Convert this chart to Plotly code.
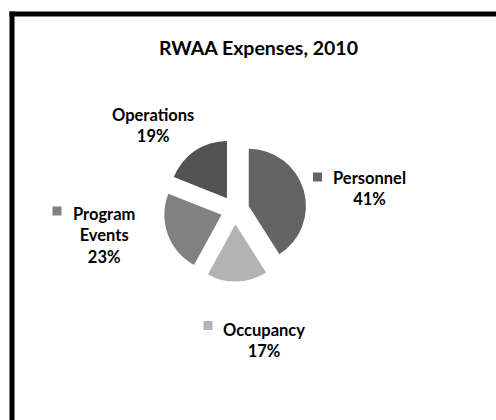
import plotly.graph_objects as go

# ---- data ----
categories = ["Personnel", "Occupancy", "Program Events", "Operations"]
values = [41, 17, 23, 19]
label_lines = [["Personnel"], ["Occupancy"], ["Program", "Events"], ["Operations"]]
slice_colors = ["#646464", "#b3b3b3", "#818181", "#525252"]
title_text = "RWAA Expenses, 2010"

W, H = 496, 420


def px(x):
    return x / W


def py(y):
    return 1 - y / H


total = sum(values)
pcts = [round(v / total * 100) for v in values]

fig = go.Figure(
    go.Pie(
        labels=categories,
        values=values,
        sort=False,
        direction="clockwise",
        rotation=0,
        pull=[0.25] * len(values),
        marker=dict(colors=slice_colors, line=dict(width=0)),
        textinfo="none",
        hoverinfo="label+percent",
        showlegend=False,
        domain=dict(x=[px(235 - 71.5), px(235 + 71.5)], y=[py(210 + 71.5), py(210 - 71.5)]),
    )
)

FONT = "Lato"
# label block centers (pixel) and key marker centers
label_pos = {
    "Personnel": (369, 189, (317.5, 177)),
    "Occupancy": (264, 340, (208, 325.5)),
    "Program Events": (104, 235, (57, 211)),
    "Operations": (153, 125, None),
}

annotations = [
    dict(
        text=title_text,
        x=px(258.5), y=py(47), xref="paper", yref="paper",
        showarrow=False, xanchor="center", yanchor="middle",
        font=dict(family=FONT, size=19.5, color="#000000", weight="bold"),
    )
]
# chart-area frame: only top and left edges are visible in the crop
shapes = [
    dict(type="line", xref="paper", yref="paper",
         x0=px(9.5), y0=py(14), x1=1, y1=py(14),
         line=dict(color="#000000", width=5)),
    dict(type="line", xref="paper", yref="paper",
         x0=px(12), y0=py(11.5), x1=px(12), y1=0,
         line=dict(color="#000000", width=5)),
]
for cat, lines, pct, col in zip(categories, label_lines, pcts, slice_colors):
    cx, cy, mk = label_pos[cat]
    annotations.append(dict(
        text="<br>".join(lines + [f"{pct}%"]),
        x=px(cx), y=py(cy), xref="paper", yref="paper",
        showarrow=False, xanchor="center", yanchor="middle", align="center",
        font=dict(family=FONT, size=16.5, color="#000000", weight="bold"),
    ))
    if mk is not None:
        mx, my = mk
        shapes.append(dict(type="rect", xref="paper", yref="paper",
                           x0=px(mx - 4.5), x1=px(mx + 4.5), y0=py(my + 4.5), y1=py(my - 4.5),
                           line=dict(width=0), fillcolor=col))

fig.update_layout(
    width=W, height=H,
    margin=dict(l=0, r=0, t=0, b=0),
    paper_bgcolor="#ffffff",
    plot_bgcolor="#ffffff",
    annotations=annotations,
    shapes=shapes,
)

fig.write_html(
    "out.html",
    config={"displayModeBar": False},
    post_script=(
        "document.documentElement.style.overflow='hidden';"
        "document.body.style.margin='0';document.body.style.padding='0';"
        "document.body.style.overflow='hidden';"
    ),
)
